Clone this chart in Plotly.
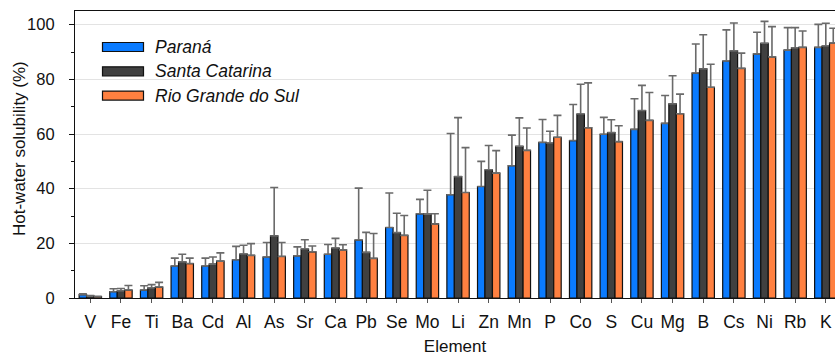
import plotly.graph_objects as go

elements = ["V", "Fe", "Ti", "Ba", "Cd", "Al", "As", "Sr", "Ca", "Pb", "Se", "Mo", "Li",
            "Zn", "Mn", "P", "Co", "S", "Cu", "Mg", "B", "Cs", "Ni", "Rb", "K"]

parana = [1.2, 2.3, 2.9, 11.7, 11.7, 14.0, 15.0, 15.4, 16.0, 21.2, 25.8, 30.8, 37.8,
          40.8, 48.4, 56.9, 57.6, 59.9, 61.7, 63.9, 82.3, 86.7, 89.3, 90.7, 91.7]
parana_top = [1.5, 3.4, 4.5, 14.6, 14.6, 18.9, 20.3, 18.7, 19.6, 40.2, 38.4, 36.1, 60.2,
              50.0, 59.6, 65.3, 70.8, 66.1, 72.9, 74.1, 92.9, 98.1, 97.2, 98.9, 100.1]

santa = [0.7, 2.6, 3.7, 13.2, 12.4, 16.1, 22.7, 17.9, 18.3, 16.7, 23.9, 30.7, 44.4,
         46.9, 55.5, 56.7, 67.3, 60.5, 68.6, 71.0, 83.8, 90.4, 93.2, 91.5, 92.2]
santa_top = [0.9, 3.5, 4.9, 16.0, 15.0, 19.3, 40.4, 21.3, 21.8, 24.0, 31.0, 39.4, 66.0,
             55.8, 65.9, 61.0, 78.2, 65.2, 77.8, 81.3, 96.3, 100.6, 101.2, 98.9, 100.5]

rio = [0.5, 2.9, 4.0, 12.6, 13.5, 15.6, 15.2, 16.9, 17.6, 14.5, 22.9, 27.1, 38.6,
       45.7, 54.0, 58.8, 62.3, 57.2, 65.0, 67.4, 77.1, 84.0, 88.2, 91.7, 93.3]
rio_top = [0.6, 4.6, 5.7, 14.6, 16.5, 19.9, 20.3, 19.0, 19.5, 23.6, 30.2, 30.8, 55.0,
           53.9, 62.2, 66.8, 78.7, 63.0, 75.2, 74.6, 85.5, 89.6, 99.3, 97.7, 98.7]

series_names = ["Paraná", "Santa Catarina", "Rio Grande do Sul"]
colors = ["#0A7BFF", "#404040", "#FF8040"]
y_title = "Hot-water solubility (%)"

W, H = 835, 356
ML, MR, MT, MB = 75, 0, 11, 58

fig = go.Figure()
for name, vals, tops, col in zip(series_names, [parana, santa, rio],
                                 [parana_top, santa_top, rio_top], colors):
    fig.add_trace(go.Bar(
        x=list(range(len(elements))), y=vals, name=name,
        marker=dict(color=col, line=dict(color="#111111", width=1.2)),
        error_y=dict(type="data", symmetric=False,
                     array=[t - v for t, v in zip(tops, vals)],
                     arrayminus=[0] * len(vals),
                     color="#6a6a6a", thickness=1.6, width=4),
        showlegend=False,
    ))

# Legend drawn as shapes + text (wide swatches as in the reference)
pw, ph = W - ML - MR, H - MT - MB
def px(x):
    return (x - ML) / pw
def py(y):
    return 1 - (y - MT) / ph

shapes = []
annotations = []
for i, (name, col) in enumerate(zip(series_names, colors)):
    yc = 47 + i * 24.3
    shapes.append(dict(type="rect", xref="paper", yref="paper",
                       x0=px(102.5), x1=px(143.5), y0=py(yc - 4.5), y1=py(yc + 4.5),
                       fillcolor=col, line=dict(color="#111111", width=1.2)))
    annotations.append(dict(xref="paper", yref="paper", x=px(153), y=py(yc),
                            text=f"<i>{name}</i>", showarrow=False,
                            xanchor="left", yanchor="middle",
                            font=dict(size=17.5, color="#111111")))

annotations.append(dict(xref="paper", yref="paper", x=px(19), y=py(149),
                        text=y_title, textangle=-90, showarrow=False,
                        xanchor="center", yanchor="middle",
                        font=dict(size=17, color="#111111")))

fig.update_layout(
    width=W, height=H,
    margin=dict(l=ML, r=MR, t=MT, b=MB, pad=0),
    paper_bgcolor="white", plot_bgcolor="white",
    barmode="group", bargap=0.27, bargroupgap=0,
    font=dict(family="Liberation Sans, Arial, sans-serif", size=17, color="#111111"),
    shapes=shapes, annotations=annotations,
    xaxis=dict(
        tickmode="array", tickvals=list(range(len(elements))), ticktext=elements,
        range=[-0.5, 24.3], showline=True, linecolor="#111111", linewidth=1.2,
        mirror=True, ticks="outside", ticklen=4, tickcolor="#555555",
        showgrid=False, zeroline=False, automargin=False,
        title=dict(text="Element", standoff=9, font=dict(size=17)),
        tickfont=dict(size=17.5),
        ticklabelstandoff=4,
    ),
    yaxis=dict(
        range=[0, 105], tickvals=[0, 20, 40, 60, 80, 100],
        showline=True, linecolor="#111111", linewidth=1.2,
        ticks="outside", ticklen=5, tickcolor="#111111",
        showgrid=True, gridcolor="#e3e3e3", gridwidth=1,
        zeroline=False, automargin=False,
        minor=dict(tickvals=[10, 30, 50, 70, 90], ticks="outside", ticklen=3,
                   tickcolor="#111111", showgrid=False),
        tickfont=dict(size=16.5),
        ticklabelstandoff=11,
    ),
)

fig.write_html("out.html", config={"displayModeBar": False},
               post_script="document.body.style.margin='0';document.body.style.overflow='hidden';")
